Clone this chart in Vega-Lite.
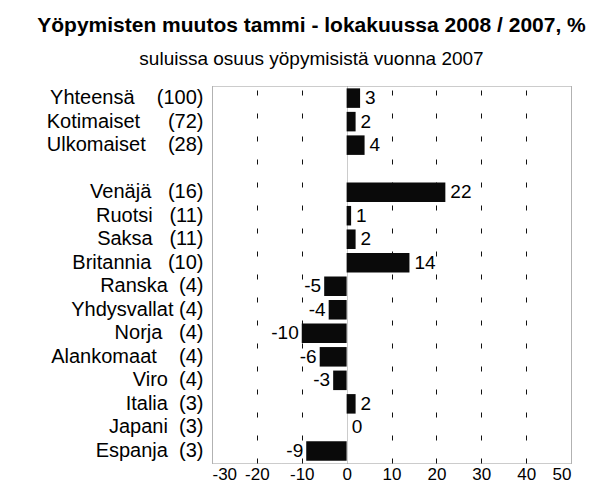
{
  "$schema": "https://vega.github.io/schema/vega-lite/v6.json",
  "autosize": {"type": "none"},
  "padding": {"left": 212, "top": 86, "right": 43, "bottom": 19},
  "width": 359,
  "height": 377,
  "background": "white",
  "title": {
    "text": "Yöpymisten muutos tammi - lokakuussa 2008 / 2007, %",
    "subtitle": "suluissa osuus  yöpymisistä vuonna 2007\u00a0\u00a0\u00a0\u00a0\u00a0\u00a0",
    "font": "Liberation Sans",
    "subtitleFont": "Liberation Sans",
    "fontSize": 21,
    "fontWeight": "bold",
    "subtitleFontSize": 19,
    "color": "black",
    "subtitleColor": "black",
    "anchor": "middle",
    "dx": -80,
    "offset": 17,
    "subtitlePadding": 14
  },
  "data": {
    "values": [
      {"label": "Yhteensä\u00a0\u00a0\u00a0\u00a0(100)", "value": 3},
      {"label": "Kotimaiset\u00a0\u00a0\u00a0\u00a0\u00a0(72)", "value": 2},
      {"label": "Ulkomaiset\u00a0\u00a0\u00a0\u00a0(28)", "value": 4},
      {"label": "Venäjä\u00a0\u00a0\u00a0(16)", "value": 22},
      {"label": "Ruotsi\u00a0\u00a0\u00a0(11)", "value": 1},
      {"label": "Saksa\u00a0\u00a0\u00a0(11)", "value": 2},
      {"label": "Britannia\u00a0\u00a0\u00a0(10)", "value": 14},
      {"label": "Ranska\u00a0\u00a0(4)", "value": -5},
      {"label": "Yhdysvallat\u00a0(4)", "value": -4},
      {"label": "Norja\u00a0\u00a0\u00a0(4)", "value": -10},
      {"label": "Alankomaat\u00a0\u00a0\u00a0\u00a0(4)", "value": -6},
      {"label": "Viro\u00a0\u00a0(4)", "value": -3},
      {"label": "Italia\u00a0\u00a0(3)", "value": 2},
      {"label": "Japani\u00a0\u00a0(3)", "value": 0},
      {"label": "Espanja\u00a0\u00a0(3)", "value": -9}
    ]
  },
  "encoding": {
    "y": {
      "field": "label",
      "type": "nominal",
      "scale": {
        "domain": [
          "Yhteensä\u00a0\u00a0\u00a0\u00a0(100)",
          "Kotimaiset\u00a0\u00a0\u00a0\u00a0\u00a0(72)",
          "Ulkomaiset\u00a0\u00a0\u00a0\u00a0(28)",
          "\u00a0",
          "Venäjä\u00a0\u00a0\u00a0(16)",
          "Ruotsi\u00a0\u00a0\u00a0(11)",
          "Saksa\u00a0\u00a0\u00a0(11)",
          "Britannia\u00a0\u00a0\u00a0(10)",
          "Ranska\u00a0\u00a0(4)",
          "Yhdysvallat\u00a0(4)",
          "Norja\u00a0\u00a0\u00a0(4)",
          "Alankomaat\u00a0\u00a0\u00a0\u00a0(4)",
          "Viro\u00a0\u00a0(4)",
          "Italia\u00a0\u00a0(3)",
          "Japani\u00a0\u00a0(3)",
          "Espanja\u00a0\u00a0(3)"
        ],
        "paddingInner": 0.17,
        "paddingOuter": 0.1
      },
      "axis": {
        "title": null,
        "domain": false,
        "ticks": false,
        "grid": false,
        "labelFont": "Liberation Sans",
        "labelFontSize": 20,
        "labelColor": "black",
        "labelPadding": 9,
        "labelLimit": 300
      }
    }
  },
  "layer": [
    {
      "mark": {"type": "bar", "color": "#0a0a0a"},
      "encoding": {
        "x": {
          "field": "value",
          "type": "quantitative",
          "scale": {"domain": [-30, 50], "nice": false, "zero": false},
          "axis": {
            "title": null,
            "values": [-30, -20, -10, 0, 10, 20, 30, 40, 50],
            "labelExpr": "'' + datum.value",
            "domain": false,
            "ticks": false,
            "labelFont": "Liberation Sans",
            "labelFontSize": 17,
            "labelColor": "black",
            "labelPadding": 3,
            "grid": true,
            "gridColor": {"condition": {"test": "datum.value === 0 || datum.value === -30 || datum.value === 50", "value": "#999999"}, "value": "#111111"},
            "gridDash": {"condition": {"test": "datum.value === 0 || datum.value === -30 || datum.value === 50", "value": [1, 1]}, "value": [5, 18]},
            "gridWidth": 1,
            "gridOpacity": 1
          }
        }
      }
    },
    {
      "transform": [{"filter": "datum.value >= 0"}],
      "mark": {"type": "text", "align": "left", "dx": 5, "font": "Liberation Sans", "fontSize": 19, "color": "black"},
      "encoding": {
        "x": {"field": "value", "type": "quantitative"},
        "text": {"field": "value", "type": "nominal"}
      }
    },
    {
      "transform": [{"filter": "datum.value < 0"}],
      "mark": {"type": "text", "align": "right", "dx": -3, "font": "Liberation Sans", "fontSize": 19, "color": "black"},
      "encoding": {
        "x": {"field": "value", "type": "quantitative"},
        "text": {"field": "value", "type": "nominal"}
      }
    }
  ],
  "config": {
    "view": {"stroke": "#999999", "strokeDash": [1, 1], "strokeWidth": 1}
  }
}
